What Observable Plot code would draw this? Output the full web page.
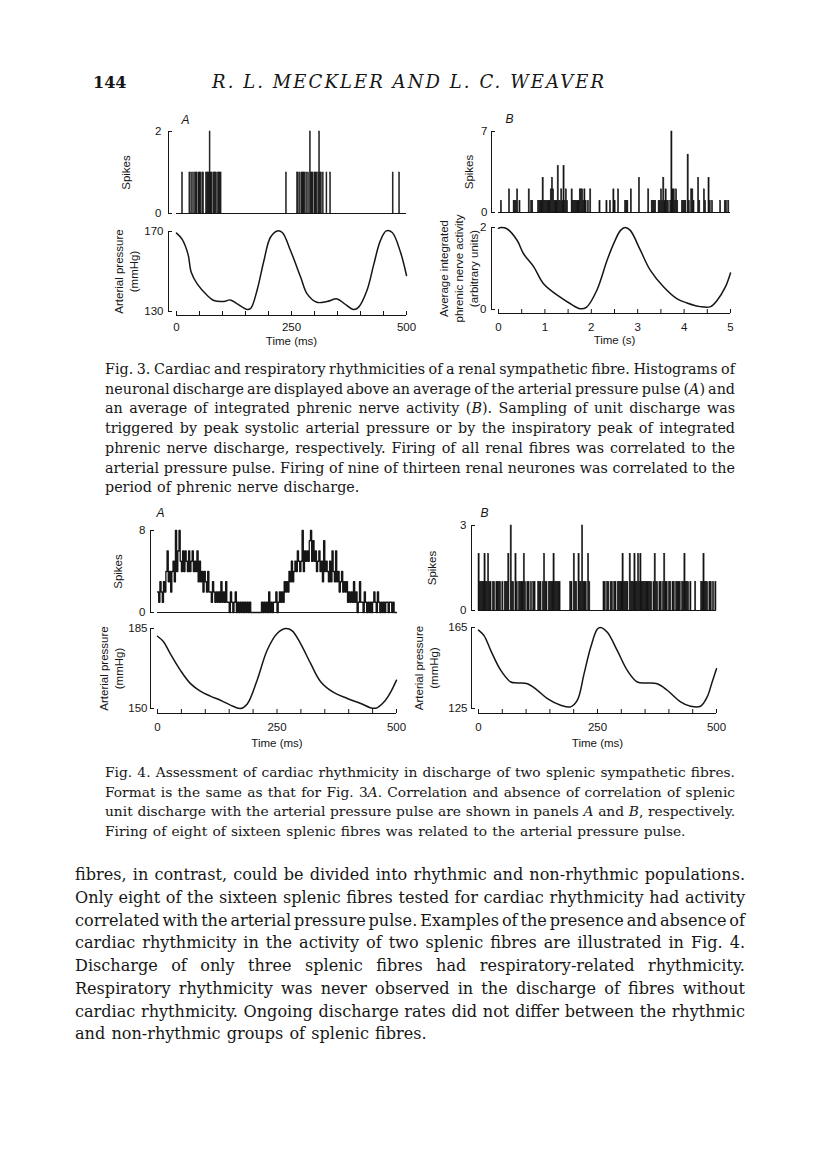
<!DOCTYPE html>
<html><head><meta charset="utf-8">
<script src="https://cdn.jsdelivr.net/npm/d3@7"></script>
<script src="https://cdn.jsdelivr.net/npm/@observablehq/plot@0.6"></script>
<style>
html,body{margin:0;padding:0;background:#fff;}
#page{position:relative;width:816px;height:1173px;overflow:hidden;background:#fff;color:#161616;}
.tl{position:absolute;white-space:nowrap;font-family:"DejaVu Serif",serif;color:#161616;}
svg{position:absolute;}
</style></head><body><div id="page"></div>
<script>
// ---------------- DATA ----------------
// Fig. 3A: renal fibre, histogram triggered on systolic peak (2 ms bins)
const fig3aBin = 2;
const fig3aTimes  = [12,28,32,36,40,42,44,48,50,52,56,58,64,66,68,70,72,74,76,80,82,84,86,90,92,94,96,
                     238,262,264,268,272,274,276,278,282,286,290,292,294,296,300,302,304,308,310,312,314,318,326,334,470,484];
const fig3aCounts = [1,1,1,1,1,1,1,1,1,1,1,1,1,1,1,1,2,1,1,1,1,1,1,1,1,1,1,
                     1,1,1,1,1,1,1,1,1,1,2,1,1,1,1,1,1,1,2,1,1,1,1,1,1,1];
// Fig. 3A: averaged arterial pressure (mmHg)
const fig3aPressT = [0,12,25,32,45,67,81,103,117,132,154,162,175,190,204,219,230,248,270,284,305,327,349,364,385,396,414,429,443,456,469,487,500];
const fig3aPressV = [169.2,166.2,158.7,149.6,143.8,138,135.5,135,135.8,133.8,131,131.8,140.5,155.4,167,170.3,169.5,160.4,147.1,138.8,134.6,135,136.3,134.1,131,132.2,140.5,153.7,165.3,170.3,169.5,159.6,148];

// Fig. 3B: renal fibre, histogram triggered on inspiratory peak (0.025 s bins)
const fig3bBin = 0.025;
const fig3bTimes  = [0.05,0.225,0.325,0.35,0.375,0.4,0.45,0.65,0.7,0.725,
  0.85,0.875,0.9,0.925,0.95,0.975,1.0,1.025,1.05,1.075,1.1,1.125,1.15,1.175,1.2,
  1.225,1.25,1.275,1.3,1.325,1.35,1.375,1.4,1.425,1.45,1.475,
  1.575,1.6,1.625,1.65,1.675,1.7,1.725,1.75,1.775,1.8,1.825,1.85,1.875,1.925,1.975,
  2.175,2.325,2.4,2.475,2.5,2.575,2.725,2.75,2.775,2.85,3.025,
  3.225,3.3,3.325,3.35,3.375,3.45,3.475,3.5,3.525,3.55,3.575,3.6,3.625,3.65,3.7,3.725,3.75,3.775,3.8,3.825,3.85,
  3.95,3.975,4.0,4.025,4.075,4.1,4.15,4.175,4.2,4.3,4.325,4.425,4.45,4.525,4.55,4.6,4.775,4.875,4.9,4.95];
const fig3bCounts = [1,2,1,1,1,2,1,2,1,1,
  1,1,1,1,3,1,1,1,1,1,1,2,3,2,1,
  1,1,4,1,1,2,1,4,1,2,1,
  2,1,1,1,1,1,1,2,2,2,1,2,1,1,2,
  1,1,1,2,1,2,1,1,1,2,3,
  2,1,1,1,1,1,1,2,1,3,1,2,1,1,1,7,2,2,1,2,1,
  1,1,1,1,5,1,2,2,1,3,1,2,1,3,1,1,1,1,1,1];
// Fig. 3B: average integrated phrenic nerve activity (arbitrary units)
const fig3bPhrT = [0,0.05,0.18,0.4,0.54,0.76,0.97,1.33,1.55,1.76,1.9,2.12,2.34,2.48,2.63,2.73,2.84,3.06,3.27,3.56,3.85,4.06,4.35,4.57,4.71,4.89,5.0];
const fig3bPhrV = [1.98,2.0,1.97,1.69,1.36,1.04,0.63,0.30,0.14,0.02,0.06,0.47,1.2,1.6,1.93,2.0,1.93,1.44,0.96,0.55,0.26,0.16,0.07,0.07,0.22,0.55,0.89];

// Fig. 4A: splenic fibre with cardiac rhythm (2.5 ms bins)
const fig4aBin = 2.5;
const fig4aCounts = [
 2,1,3,2, 1,3,2,4, 6,3,4,2, 4,5,3,8, 4,6,8,5, 4,6,4,6, 5,4,6,4, 5,6,4,5, 4,6,3,5, 3,4,2,4,
 3,2,4,2, 2,1,3,2, 1,2,1,2, 1,3,1,2, 1,3,1,1, 0,2,1,0, 1,2,0,1, 0,1,0,1, 0,1,0,1, 0,1,0,0,
 0,0,0,0, 0,0,0,1, 0,1,0,1, 0,2,0,1, 0,1,1,2, 0,1,2,1, 2,1,3,2, 3,2,4,3, 5,3,4,5, 4,6,5,4,
 5,8,4,6, 5,6,5,7, 8,5,7,5, 6,4,5,6, 4,5,3,7, 4,5,4,3, 5,3,6,4, 3,6,3,4, 2,3,4,2, 3,2,3,1,
 2,1,2,1, 3,1,2,0, 1,3,1,1, 0,2,1,0, 1,0,1,0, 1,2,1,0, 2,1,0,1, 0,1,0,1, 1,0,1,1, 0,1,0,0];
const fig4aPressT = [0,12.6,26.6,47.6,68.5,89.5,110.5,131.5,152.4,173.4,187.4,208.4,229.4,250.3,267.8,281.8,299.3,320.3,341.3,369.2,397.2,425.2,449.7,460.2,474.1,488.1,500];
const fig4aPressV = [181.6,179.2,174,166.8,161,157.6,155.4,153.6,151.5,150,151.9,162.4,175.5,182.8,185,184,178.4,169.7,161.7,156.9,154.4,152.2,150.1,150.4,152.9,157.3,162.4];

// Fig. 4B: splenic fibre without cardiac rhythm (2.5 ms bins)
const fig4bBin = 2.5;
const fig4bCounts = [
 2,1,1,1, 1,2,1,1, 2,1,1,0, 1,1,0,1, 1,1,1,0, 1,0,1,1, 1,2,0,3, 1,1,0,2, 1,0,1,1, 1,1,2,1,
 0,1,1,0, 1,0,1,1, 0,0,1,1, 1,0,1,2, 1,1,0,1, 1,1,1,2, 1,1,1,1, 1,0,0,0, 0,0,0,0, 0,1,1,0,
 2,1,1,0, 2,1,1,3, 1,1,1,0, 2,1,0,0, 0,0,0,0, 0,0,0,0, 0,1,1,0, 1,1,0,1, 1,0,1,1, 0,1,1,1,
 1,2,1,1, 1,1,0,2, 1,1,1,2, 1,1,2,1, 2,1,1,1, 1,1,1,1, 1,1,0,1, 2,1,1,0, 1,1,0,1, 2,1,1,0,
 1,1,0,1, 1,0,1,1, 1,1,0,1, 1,2,1,1, 1,0,1,0, 0,0,1,0, 0,0,0,1, 1,2,1,1, 1,0,1,1, 0,1,0,1];
const fig4bPressT = [0,11.9,25.9,46.9,67.8,81.8,102.8,123.8,144.8,172.7,193.7,207.7,221.7,235.7,249.7,256.6,270.6,291.6,312.6,333.6,354.5,375.5,396.5,424.5,445.5,466.4,480.4,490.9,500];
const fig4bPressV = [163.7,160.9,153.6,143.8,138.1,137.6,137.2,134,129.9,126.6,125.8,129.1,142.1,155.2,164.2,165,162.6,153.6,143.8,138.1,137.6,137.2,134,128.3,126.1,126.1,130.7,138.1,144.6];

// Tick labels
const msTicks = [0,50,100,150,200,250,300,350,400,450,500];
const msLabels = [0,250,500];
const sTicks = [0,0.5,1,1.5,2,2.5,3,3.5,4,4.5,5];
const sLabels = [0,1,2,3,4,5];

// Texts
const headerNum = "144";
const headerTitle = "R. L. MECKLER AND L. C. WEAVER";
const caption3 = [
 "Fig. 3. Cardiac and respiratory rhythmicities of a renal sympathetic fibre. Histograms of",
 "neuronal discharge are displayed above an average of the arterial pressure pulse (<i>A</i>) and",
 "an average of integrated phrenic nerve activity (<i>B</i>). Sampling of unit discharge was",
 "triggered by peak systolic arterial pressure or by the inspiratory peak of integrated",
 "phrenic nerve discharge, respectively. Firing of all renal fibres was correlated to the",
 "arterial pressure pulse. Firing of nine of thirteen renal neurones was correlated to the",
 "period of phrenic nerve discharge."];
const caption4 = [
 "Fig. 4. Assessment of cardiac rhythmicity in discharge of two splenic sympathetic fibres.",
 "Format is the same as that for Fig. 3<i>A</i>. Correlation and absence of correlation of splenic",
 "unit discharge with the arterial pressure pulse are shown in panels <i>A</i> and <i>B</i>, respectively.",
 "Firing of eight of sixteen splenic fibres was related to the arterial pressure pulse."];
const bodyText = [
 "fibres, in contrast, could be divided into rhythmic and non-rhythmic populations.",
 "Only eight of the sixteen splenic fibres tested for cardiac rhythmicity had activity",
 "correlated with the arterial pressure pulse. Examples of the presence and absence of",
 "cardiac rhythmicity in the activity of two splenic fibres are illustrated in Fig. 4.",
 "Discharge of only three splenic fibres had respiratory-related rhythmicity.",
 "Respiratory rhythmicity was never observed in the discharge of fibres without",
 "cardiac rhythmicity. Ongoing discharge rates did not differ between the rhythmic",
 "and non-rhythmic groups of splenic fibres."];

// ---------------- BUILD ----------------
const page = document.getElementById("page");
const INK = "#161616";
const sparseBars = (T, C, w) => T.map((t, i) => ({t0: t, t1: t + w, c: C[i]}));
const denseBars = (C, w) => C.map((c, i) => ({t0: i * w, t1: (i + 1) * w, c})).filter(d => d.c > 0);
const steps = (C, w, end) => C.map((c, i) => ({t: i * w, c})).concat([{t: end, c: C[C.length - 1]}]);
const pts = (T, V) => T.map((t, i) => ({t, v: V[i]}));

function panel(cfg) {
  const mL = 100, mR = 20, mT = 30, mB = cfg.xAxis ? 46 : 8;
  const W = cfg.x1 - cfg.x0, H = cfg.yBase - cfg.yTop;
  const off = cfg.x0 - cfg.axisLineX;
  const marks = [];
  marks.push(Plot.ruleX([cfg.xDomain[0]], {y1: cfg.yDomain[0], y2: cfg.yDomain[1], dx: -off, stroke: INK}));
  marks.push(Plot.ruleY(cfg.yDomain, {dx: -off, insetRight: W - 4, stroke: INK}));
  marks.push(Plot.axisY({ticks: cfg.yDomain, tickSize: 0, tickPadding: cfg.x0 - cfg.yLabelRight, label: null, tickFormat: d => String(d)}));
  marks.push(Plot.text([cfg.yTitle], {text: d => d, frameAnchor: "left", textAnchor: "middle", lineAnchor: "middle", rotate: -90, dx: cfg.yTitleX - cfg.x0, lineHeight: 1.3}));
  if (cfg.letter) marks.push(Plot.text([cfg.letter], {text: d => d, frameAnchor: "top-left", textAnchor: "start", lineAnchor: "middle", fontStyle: "italic", fontSize: 12, dx: cfg.letterX - cfg.x0, dy: cfg.letterY - cfg.yTop}));
  if (cfg.xAxis) {
    const a = cfg.xAxis;
    marks.push(Plot.ruleY([cfg.yDomain[0]], {dy: a.off, stroke: INK}));
    marks.push(Plot.ruleX(a.ticks, {dy: a.off, insetTop: H - 4, stroke: INK}));
    marks.push(Plot.axisX({ticks: a.labels, tickSize: 0, tickPadding: a.labelTop - cfg.yBase, label: null, tickFormat: d => String(d)}));
    marks.push(Plot.text([a.title], {text: d => d, frameAnchor: "bottom", textAnchor: "middle", lineAnchor: "middle", dy: a.titleY - cfg.yBase}));
  }
  marks.push(...cfg.marks);
  const svg = Plot.plot({
    width: mL + W + mR, height: mT + H + mB,
    marginLeft: mL, marginRight: mR, marginTop: mT, marginBottom: mB,
    x: {domain: cfg.xDomain, axis: null},
    y: {domain: cfg.yDomain, axis: null},
    style: {fontFamily: "'Liberation Sans', Arial, sans-serif", fontSize: "11.5px", overflow: "visible", background: "transparent", color: INK},
    marks
  });
  svg.style.left = (cfg.x0 - mL) + "px";
  svg.style.top = (cfg.yTop - mT) + "px";
  page.appendChild(svg);
}

const histBars = (data) => [Plot.ruleY([0], {stroke: INK}), Plot.rect(data, {x1: "t0", x2: "t1", y1: 0, y2: "c", fill: INK, stroke: INK, strokeWidth: 0.5})];
const curve = (data) => [Plot.line(data, {x: "t", y: "v", curve: "catmull-rom", stroke: INK, strokeWidth: 1.5})];

// Fig 3A
panel({x0: 176, x1: 406, xDomain: [0, 500], yTop: 131, yBase: 213, yDomain: [0, 2], axisLineX: 168, yLabelRight: 161,
  yTitle: "Spikes", yTitleX: 125, letter: "A", letterX: 181, letterY: 120,
  marks: histBars(sparseBars(fig3aTimes, fig3aCounts, fig3aBin))});
panel({x0: 176, x1: 406, xDomain: [0, 500], yTop: 231, yBase: 311, yDomain: [130, 170], axisLineX: 168, yLabelRight: 163,
  yTitle: "Arterial pressure\n(mmHg)", yTitleX: 125.5,
  xAxis: {off: 4, ticks: msTicks, labels: msLabels, labelTop: 322, title: "Time (ms)", titleY: 341},
  marks: curve(pts(fig3aPressT, fig3aPressV))});
// Fig 3B
panel({x0: 498, x1: 730, xDomain: [0, 5], yTop: 131, yBase: 212, yDomain: [0, 7], axisLineX: 491, yLabelRight: 487,
  yTitle: "Spikes", yTitleX: 468, letter: "B", letterX: 505, letterY: 119,
  marks: histBars(sparseBars(fig3bTimes, fig3bCounts, fig3bBin))});
panel({x0: 498, x1: 730, xDomain: [0, 5], yTop: 227, yBase: 309, yDomain: [0, 2], axisLineX: 491, yLabelRight: 486,
  yTitle: "Average integrated\nphrenic nerve activity\n(arbitrary units)", yTitleX: 458,
  xAxis: {off: 4, ticks: sTicks, labels: sLabels, labelTop: 322, title: "Time (s)", titleY: 340},
  marks: curve(pts(fig3bPhrT, fig3bPhrV))});
// Fig 4A
panel({x0: 157, x1: 396, xDomain: [0, 500], yTop: 530, yBase: 612, yDomain: [0, 8], axisLineX: 150, yLabelRight: 145,
  yTitle: "Spikes", yTitleX: 117, letter: "A", letterX: 156, letterY: 513,
  marks: [Plot.ruleY([0], {stroke: INK}), Plot.line(steps(fig4aCounts, fig4aBin, 500), {x: "t", y: "c", curve: "step-after", stroke: INK, strokeWidth: 1.3})]});
panel({x0: 157, x1: 396, xDomain: [0, 500], yTop: 628, yBase: 708, yDomain: [150, 185], axisLineX: 150, yLabelRight: 147,
  yTitle: "Arterial pressure\n(mmHg)", yTitleX: 110.5,
  xAxis: {off: 5, ticks: msTicks, labels: msLabels, labelTop: 722, title: "Time (ms)", titleY: 743},
  marks: curve(pts(fig4aPressT, fig4aPressV))});
// Fig 4B
panel({x0: 478, x1: 716, xDomain: [0, 500], yTop: 525, yBase: 610, yDomain: [0, 3], axisLineX: 471, yLabelRight: 466,
  yTitle: "Spikes", yTitleX: 431, letter: "B", letterX: 480, letterY: 513,
  marks: histBars(denseBars(fig4bCounts, fig4bBin))});
panel({x0: 478, x1: 716, xDomain: [0, 500], yTop: 627, yBase: 708, yDomain: [125, 165], axisLineX: 471, yLabelRight: 467,
  yTitle: "Arterial pressure\n(mmHg)", yTitleX: 425.5,
  xAxis: {off: 5, ticks: msTicks, labels: msLabels, labelTop: 722, title: "Time (ms)", titleY: 743},
  marks: curve(pts(fig4bPressT, fig4bPressV))});

// ---------------- TEXT ----------------
function addLine(html, left, top, fs, lh, extra) {
  const d = document.createElement("div");
  d.className = "tl";
  d.style.left = left + "px"; d.style.top = top + "px";
  d.style.fontSize = fs + "px"; d.style.lineHeight = lh + "px";
  if (extra) Object.assign(d.style, extra);
  d.innerHTML = html;
  page.appendChild(d);
  return d;
}
function block(lines, {left, top, width, lh, base}) {
  const divs = lines.map((h, i) => addLine(h, left, top + i * lh, base, lh));
  const ws = divs.slice(0, -1).map(d => d.getBoundingClientRect().width);
  const fs = base * width / d3.median(ws) * 0.985;
  divs.forEach(d => d.style.fontSize = fs + "px");
  const sp = [];
  divs.forEach((d, i) => {
    if (i < divs.length - 1) {
      const w = d.getBoundingClientRect().width;
      const n = (d.textContent.match(/ /g) || []).length;
      const s = (width - w) / n; sp.push(s);
      d.style.wordSpacing = s + "px";
    }
  });
  divs[divs.length - 1].style.wordSpacing = d3.median(sp) + "px";
}

addLine(headerNum, 93, 72.5, 16, 20, {fontWeight: "bold"});
(function () {
  const d = addLine(headerTitle, 212, 71.5, 18, 20, {fontStyle: "italic"});
  const w = d.getBoundingClientRect().width;
  d.style.letterSpacing = ((392 - w) / (headerTitle.length - 1)) + "px";
})();
block(caption3, {left: 105, top: 360, width: 630, lh: 19.7, base: 13});
block(caption4, {left: 105, top: 763, width: 630, lh: 19.6, base: 13});
block(bodyText, {left: 75, top: 864, width: 670, lh: 22.75, base: 15});
</script></body></html>
